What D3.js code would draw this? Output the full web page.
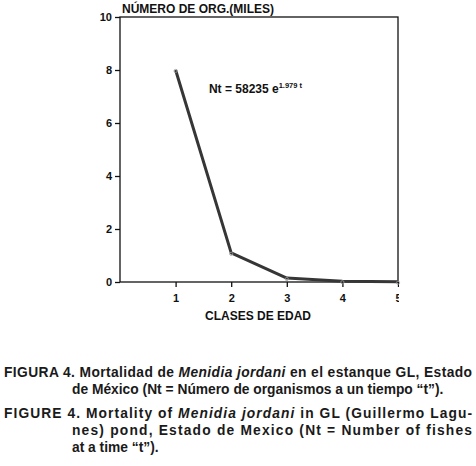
<!DOCTYPE html>
<meta charset="utf-8">
<style>
    body { margin: 0; background: #fff; font-family: 'Liberation Sans', Arial, sans-serif; }
    svg text { font-weight: bold; fill: #111; }
</style>
<script src="https://d3js.org/d3.v7.min.js"></script>
<div id="graph"></div>
<script>
    const clases = [1, 2, 3, 4, 5],
        organismos = [8.0, 1.1, 0.15, 0.03, 0.01],
        xTicks = [1, 2, 3, 4, 5],
        yTicks = [0, 2, 4, 6, 8, 10];

    const W = 476, H = 466;
    const margin = {top: 17, right: 78, bottom: 184, left: 120},
        width = W - margin.left - margin.right,
        height = H - margin.top - margin.bottom;

    const svg = d3.select("#graph").append("svg")
        .attr("width", W).attr("height", H);

    // the "5" label is cut at the frame edge in the original
    svg.append("defs").append("clipPath").attr("id", "clip")
        .append("rect").attr("x", -5).attr("y", -20).attr("width", width + 6).attr("height", height + 60);

    const g = svg.append("g").attr("transform", `translate(${margin.left},${margin.top})`);

    const x = d3.scaleLinear().domain([0, 5]).range([0, width]);
    const y = d3.scaleLinear().domain([0, 10]).range([height, 0]);

    // frame
    g.append("rect").attr("width", width).attr("height", height)
        .attr("fill", "none").attr("stroke", "#111").attr("stroke-width", 1.3);

    const axisX = g.append("g").attr("transform", `translate(0,${height})`)
        .attr("clip-path", "url(#clip)")
        .call(d3.axisBottom(x).tickValues(xTicks).tickSize(5).tickFormat(d3.format("d")));
    axisX.select(".domain").remove();
    axisX.selectAll("line").attr("stroke", "#111").attr("stroke-width", 1.3);
    axisX.selectAll("text").attr("font-size", 11).attr("font-family", "Liberation Sans").attr("dy", "1.1em");

    const axisY = g.append("g")
        .call(d3.axisLeft(y).tickValues(yTicks).tickSize(5).tickFormat(d3.format("d")));
    axisY.select(".domain").remove();
    axisY.selectAll("line").attr("stroke", "#111").attr("stroke-width", 1.3);
    axisY.selectAll("text").attr("font-size", 11).attr("font-family", "Liberation Sans").attr("x", -8);

    const pts = clases.map((c, i) => [c, organismos[i]]);

    g.append("path").datum(pts)
        .attr("fill", "none").attr("stroke", "#363636").attr("stroke-width", 3)
        .attr("stroke-linejoin", "round")
        .attr("d", d3.line().x(d => x(d[0])).y(d => y(d[1])));

    g.selectAll("path.mk").data(pts).enter().append("path").attr("class", "mk")
        .attr("transform", d => `translate(${x(d[0])},${y(d[1]) + 1})`)
        .attr("d", d3.symbol(d3.symbolCircle, 8))
        .attr("fill", "none").attr("stroke", "#999").attr("stroke-width", 0.8);

    // equation
    const eq = g.append("text").attr("x", x(1.6)).attr("y", y(7.12)).attr("font-size", 12);
    eq.append("tspan").text("Nt = 58235 e");
    eq.append("tspan").attr("font-size", 7.5).attr("dy", -5).text("1.979 t");

    svg.append("text").attr("x", 122).attr("y", 13).attr("font-size", 12).text("NÚMERO DE ORG.(MILES)");
    svg.append("text").attr("x", 258).attr("y", 320).attr("font-size", 12)
        .attr("text-anchor", "middle").text("CLASES DE EDAD");

    // captions
    function caption(yPos, xPos, parts, len) {
        const t = svg.append("text").attr("x", xPos).attr("y", yPos).attr("font-size", 13.8)
            .style("fill", "#1a1a1a");
        parts.forEach(p => {
            const s = t.append("tspan").text(p[0]);
            if (p[1]) s.attr("font-style", "italic");
        });
        if (len) t.attr("textLength", len).attr("lengthAdjust", "spacing");
    }
    caption(377, 4, [["FIGURA 4. Mortalidad de "], ["Menidia jordani", 1], [" en el estanque GL, Estado"]], 468);
    caption(394, 72, [["de México (Nt = Número de organismos a un tiempo “t”)."]]);
    caption(418, 4, [["FIGURE 4. Mortality of "], ["Menidia jordani", 1], [" in GL (Guillermo Lagu-"]], 468);
    caption(435, 72, [["nes) pond, Estado de Mexico (Nt = Number of fishes"]], 400);
    caption(452, 72, [["at a time “t”)."]]);
</script>
